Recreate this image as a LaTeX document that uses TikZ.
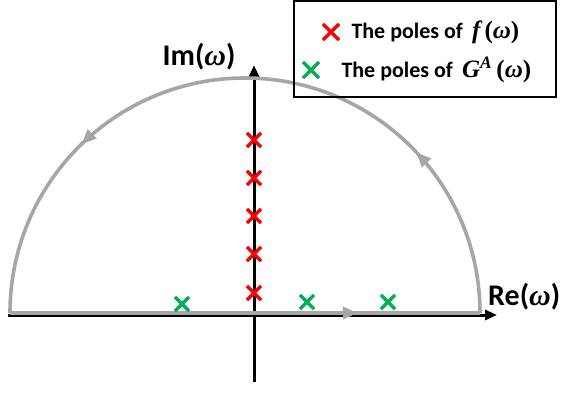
\documentclass[tikz,border=0pt]{standalone}
\usepackage{amsmath,amssymb}
\usepackage{fontspec}
\setmainfont{Carlito}
\newfontfamily\mathlike{Liberation Serif}
\newcommand{\mvar}[1]{{\mathlike\bfseries\itshape #1}}
\newcommand{\mpar}[1]{{\mathlike\bfseries #1}}
\newcommand{\mbig}[1]{{\fontsize{25}{26}\selectfont #1}}
\usepackage{tikz}
\usetikzlibrary{positioning,arrows.meta,shapes.misc,decorations.markings}
\usepackage{xcolor}
\definecolor{contour}{HTML}{A6A6A6}
\definecolor{polered}{HTML}{FF0000}
\definecolor{polegreen}{HTML}{00B050}

\begin{document}
\begin{tikzpicture}[
    x=1pt, y=1pt,
    axis/.style={line width=3pt, -{Triangle[length=12pt,width=10pt]}},
    path/.style={draw=contour, line width=3.6pt},
    tipmark/.style={postaction={decorate, decoration={markings,
        mark=at position #1 with {\arrow{Triangle[length=15pt,width=12pt]}}}}},
    pole/.style={cross out, draw, line width=3.2pt, minimum size=11pt,
                 inner sep=0pt},
    redpole/.style={pole, draw=polered},
    greenpole/.style={pole, draw=polegreen},
    label/.style={font=\fontsize{30}{32}\selectfont\bfseries},
    entry/.style={font=\fontsize{22}{24}\selectfont\bfseries, anchor=west}
]
\useasboundingbox (-254,-82) rectangle (308,315);

% ============================
% Axes
% ============================
\coordinate (reL) at (-246,0);
\coordinate (reR) at (243,0);
\coordinate (imB) at (0,-67);
\coordinate (imT) at (0,250);
\draw[axis] (reL) -- (reR);
\draw[axis] (imB) -- (imT);
\node[label, anchor=west, inner sep=0pt] (relabel) at (234,18)
    {Re(\mvar{ω})};
\node[label] (imlabel) at (-55,258) {Im(\mvar{ω})};

% ============================
% Contour
% ============================
\coordinate (cL) at (-244,2);
\coordinate (cR) at (226,2);
\draw[path, tipmark=0.74] (cL) -- (cR);
\draw[path, tipmark=0.24, tipmark=0.745]
    (cR) arc[start angle=0, end angle=180, radius=235];

% ============================
% Poles
% ============================
% f(omega) on the imaginary axis
\foreach \k/\yy in {1/22, 2/61, 3/99, 4/137, 5/175}
    \node[redpole] (f\k) at (0,\yy) {};
% G^A(omega) just above the real axis
\node[greenpole] (g1) at (-72,11) {};
\node[greenpole] (g2) at (53,13) {};
\node[greenpole] (g3) at (134,13) {};

% ============================
% Legend
% ============================
\node[draw, line width=2pt, minimum width=262pt, minimum height=95pt,
      inner sep=0pt] (legend) at (171,266) {};
\node[redpole, minimum size=13pt] (lred) at (77,283) {};
\node[entry] (tred) at (94,283) {The poles of \mbig{\,\mvar{f}\,%
    \mpar{(}\mvar{ω}\mpar{)}}};
\node[greenpole, minimum size=13pt] (lgreen) at (57,245) {};
\node[entry] (tgreen) at (84,245) {The poles of \mbig{\,\mvar{G}%
    \textsuperscript{\mvar{A}}\,\mpar{(}\mvar{ω}\mpar{)}}};

\end{tikzpicture}
\end{document}
